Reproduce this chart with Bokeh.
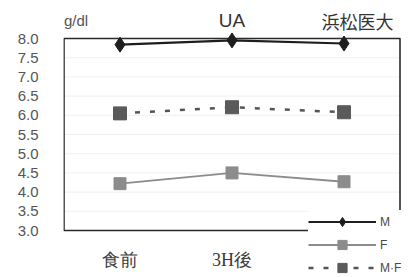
from bokeh.plotting import figure
from bokeh.models import (Label, LabelSet, Legend, LegendItem, FixedTicker, Range1d,
                          NumeralTickFormatter, ColumnDataSource)
from bokeh.embed import file_html
from bokeh.resources import INLINE

# ---- data ----
x_labels = ["食前", "3H後"]
x_label_pos = [0, 1]
x_pos = [0, 1, 2]
m_values = [7.84, 7.95, 7.87]
f_values = [4.22, 4.50, 4.27]
mf_values = [6.05, 6.21, 6.08]
y_ticks = [3.0, 3.5, 4.0, 4.5, 5.0, 5.5, 6.0, 6.5, 7.0, 7.5, 8.0]
unit_label = "g/dl"
title_text = "UA"
source_text = "浜松医大"

# ---- layout constants ----
Y_MIN, Y_MAX = 3.0, 8.0
X_MIN, X_MAX = -0.5, 2.5
LAT = "Liberation Sans"
CJK = "Noto Sans CJK JP"

p = figure(width=412, height=277, output_backend="svg", toolbar_location=None,
           x_range=Range1d(-0.5045, 2.6116), y_range=Range1d(1.776, 8.99),
           x_axis_location=None,
           min_border_left=63, min_border_right=0, min_border_top=0, min_border_bottom=0)
p.background_fill_color = "white"
p.border_fill_color = "white"
p.outline_line_color = None
p.xgrid.grid_line_color = None
p.ygrid.grid_line_color = None

p.yaxis.ticker = FixedTicker(ticks=y_ticks)
p.yaxis.formatter = NumeralTickFormatter(format="0.0")
p.yaxis.major_tick_line_color = None
p.yaxis.minor_tick_line_color = None
p.yaxis.axis_line_color = None
p.yaxis.major_label_text_font = LAT
p.yaxis.major_label_text_font_size = "15px"
p.yaxis.major_label_text_color = "#555555"
p.yaxis.major_label_standoff = 19

# faint grid lines at the tick values
p.segment(x0=X_MIN, x1=X_MAX, y0=y_ticks, y1=y_ticks, line_color="#f0f0f0", line_width=1)

# plot frame
p.quad(left=X_MIN, right=X_MAX, bottom=Y_MIN, top=Y_MAX, fill_color=None,
       line_color="#2a2a2a", line_width=1.6)

# series
l_f = p.line(x_pos, f_values, line_color="#8c8c8c", line_width=1.8)
s_f = p.scatter(x_pos, f_values, marker="square", size=12, fill_color="#8c8c8c", line_color="#8c8c8c")
l_mf = p.line(x_pos, mf_values, line_color="#555555", line_width=2.5, line_dash="5 10")
s_mf = p.scatter(x_pos, mf_values, marker="square", size=13, fill_color="#5a5a5a", line_color="#5a5a5a")
l_m = p.line(x_pos, m_values, line_color="#1e1e1e", line_width=2.2)
s_m = p.scatter(x_pos, m_values, marker="diamond", size=15, fill_color="#1e1e1e", line_color="#1e1e1e")

# category labels
cat_src = ColumnDataSource(dict(x=x_label_pos, y=[Y_MIN] * len(x_labels), t=x_labels))
p.add_layout(LabelSet(x="x", y="y", text="t", source=cat_src, y_offset=-29,
                      text_align="center", text_baseline="middle",
                      text_font=CJK, text_font_size="18px", text_color="#3a3a3a"))

# top texts
p.add_layout(Label(x=1, y=Y_MAX, y_offset=18, text=title_text, text_align="center",
                   text_baseline="middle", text_font=LAT, text_font_size="19px", text_color="#333333"))
p.add_layout(Label(x=2.12, y=Y_MAX, y_offset=18, text=source_text, text_align="center",
                   text_baseline="middle", text_font=CJK, text_font_size="18px", text_color="#333333"))
p.add_layout(Label(x=X_MIN, y=Y_MAX, x_offset=0, y_offset=18, text=unit_label, text_align="left",
                   text_baseline="middle", text_font=LAT, text_font_size="15px", text_color="#555555"))

legend = Legend(items=[
    LegendItem(label="M", renderers=[l_m, s_m]),
    LegendItem(label="F", renderers=[l_f, s_f]),
    LegendItem(label="M·F", renderers=[l_mf, s_mf]),
], location=(245, -2))
legend.background_fill_color = "white"
legend.background_fill_alpha = 1.0
legend.border_line_color = None
legend.glyph_width = 68
legend.glyph_height = 23
legend.label_height = 23
legend.spacing = 0
legend.padding = 3
legend.margin = 0
legend.label_text_font = LAT
legend.label_text_font_size = "12px"
legend.label_text_color = "#4a4a4a"
legend.label_standoff = 4
p.add_layout(legend, "center")

open("out.html", "w").write(file_html(p, INLINE))
